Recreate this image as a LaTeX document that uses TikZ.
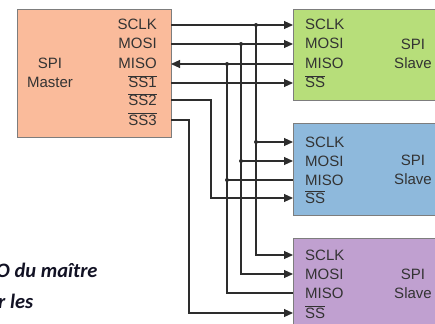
\documentclass[tikz,border=0pt]{standalone}
\usepackage{fontspec}
\setmainfont{Liberation Sans}
\newfontfamily\notefont{Carlito}
\usetikzlibrary{arrows.meta}
\definecolor{masterfill}{RGB}{250,187,155}
\definecolor{slaveA}{RGB}{183,222,122}
\definecolor{slaveB}{RGB}{142,185,220}
\definecolor{slaveC}{RGB}{192,160,208}
\definecolor{wirecol}{RGB}{45,45,45}
\definecolor{framecol}{RGB}{125,125,125}
\definecolor{notecol}{RGB}{18,18,36}
\tikzset{
  chip/.style={draw=framecol, line width=0.9pt, anchor=north west, inner sep=0pt},
  pin/.style={font=\fontsize{15}{19.5}\selectfont, text=black!80, inner sep=0pt},
  wire/.style={draw=wirecol, line width=1.1pt},
  sig/.style={wire, -{Triangle[length=9pt,width=8pt]}},
  tap/.style={circle, fill=wirecol, inner sep=0pt, minimum size=4pt},
  note/.style={font=\notefont\bfseries\itshape\fontsize{20.5}{24}\selectfont, text=notecol, inner sep=0pt, anchor=base west}
}

\begin{document}
\begin{tikzpicture}[x=1pt,y=-1pt]
        \useasboundingbox (0,0) rectangle (435,323);

        \node[chip, fill=masterfill, minimum width=154, minimum height=128] (master) at (17,9) {};
        \node[chip, fill=slaveA, minimum width=160, minimum height=91] (slave1) at (293,9) {};
        \node[chip, fill=slaveB, minimum width=160, minimum height=92] (slave2) at (293,123) {};
        \node[chip, fill=slaveC, minimum width=160, minimum height=100] (slave3) at (293,238) {};

        \node[pin, align=center] (mname) at (50,73) {SPI\\Master};
        \node[pin, anchor=base east] (ml1) at (157,30) {SCLK};
        \node[pin, anchor=base east] (ml2) at (157,49) {MOSI};
        \node[pin, anchor=base east] (ml3) at (157,69) {MISO};
        \node[pin, anchor=base east] (ml4) at (157,88) {$\overline{\mbox{SS1}}$};
        \node[pin, anchor=base east] (ml5) at (157,106) {$\overline{\mbox{SS2}}$};
        \node[pin, anchor=base east] (ml6) at (157,125) {$\overline{\mbox{SS3}}$};

        \node[pin, align=center] (aname) at (413,54) {SPI\\Slave};
        \node[pin, anchor=base west] (al1) at (305,30) {SCLK};
        \node[pin, anchor=base west] (al2) at (305,49) {MOSI};
        \node[pin, anchor=base west] (al3) at (305,69) {MISO};
        \node[pin, anchor=base west] (al4) at (305,88) {$\overline{\mbox{SS}}$};

        \node[pin, align=center] (bname) at (413,170) {SPI\\Slave};
        \node[pin, anchor=base west] (bl1) at (305,147) {SCLK};
        \node[pin, anchor=base west] (bl2) at (305,166) {MOSI};
        \node[pin, anchor=base west] (bl3) at (305,185) {MISO};
        \node[pin, anchor=base west] (bl4) at (305,203) {$\overline{\mbox{SS}}$};

        \node[pin, align=center] (cname) at (413,284) {SPI\\Slave};
        \node[pin, anchor=base west] (cl1) at (305,260) {SCLK};
        \node[pin, anchor=base west] (cl2) at (305,279) {MOSI};
        \node[pin, anchor=base west] (cl3) at (305,298) {MISO};
        \node[pin, anchor=base west] (cl4) at (305,318) {$\overline{\mbox{SS}}$};

        \coordinate (m1) at (171,25);
        \coordinate (m2) at (171,44);
        \coordinate (m3) at (171,64);
        \coordinate (m4) at (171,83);
        \coordinate (m5) at (171,100);
        \coordinate (m6) at (171,120);
        \coordinate (a1) at (293,25);
        \coordinate (a2) at (293,44);
        \coordinate (a3) at (293,64);
        \coordinate (a4) at (293,83);
        \coordinate (b1) at (293,142);
        \coordinate (b2) at (293,161);
        \coordinate (b3) at (293,180);
        \coordinate (b4) at (293,198);
        \coordinate (c1) at (293,255);
        \coordinate (c2) at (293,274);
        \coordinate (c3) at (293,293);
        \coordinate (c4) at (293,313);
        \coordinate (k1) at (256,25);
        \coordinate (k2) at (241,44);
        \coordinate (k3) at (227,64);
        \coordinate (j2) at (211,100);
        \coordinate (j3) at (189,120);

        \draw[sig] (m1) -- (a1);
        \draw[sig] (k1) |- (c1);
        \draw[sig] (k1 |- b1) -- (b1);
        \draw[sig] (m2) -- (a2);
        \draw[sig] (k2) |- (c2);
        \draw[sig] (k2 |- b2) -- (b2);
        \draw[sig] (a3) -- (m3);
        \draw[wire] (k3) |- (c3);
        \draw[wire] (k3 |- b3) -- (b3);
        \draw[sig] (m4) -- (a4);
        \draw[sig] (m5) -- (j2) |- (b4);
        \draw[sig] (m6) -- (j3) |- (c4);

        \node[tap] (t1) at (k1) {};
        \node[tap] (t2) at (k2) {};
        \node[tap] (t3) at (k3) {};
        \node[tap] (t4) at (k1 |- b1) {};
        \node[tap] (t5) at (k2 |- b2) {};
        \node[tap] (t6) at (k3 |- b3) {};

        \node[note] (n1) at (-4,277) {O du maître};
        \node[note] (n2) at (-2,308) {r les};
      \end{tikzpicture}
\end{document}
